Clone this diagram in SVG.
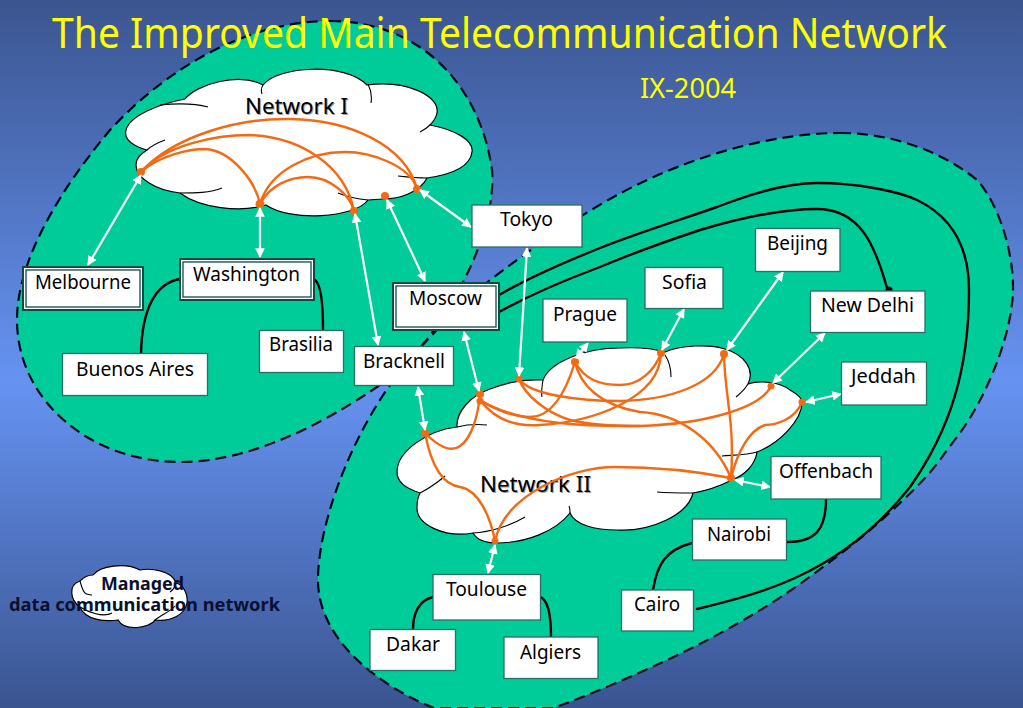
<svg xmlns="http://www.w3.org/2000/svg" width="1023" height="708" viewBox="0 0 1023 708">
<style>
text{font-family:"Noto Sans","DejaVu Sans",sans-serif}
.lbl{font-size:20px;fill:#000}
.region{fill:#00cc99;stroke:#050a1e;stroke-width:2.2;stroke-dasharray:11 6}
.cloud{fill:#fff;stroke:#000;stroke-width:1.2}
.tick{fill:none;stroke:#000;stroke-width:1.1}
.box{fill:#fff;stroke:#2a6f63;stroke-width:1.3}
.outer{fill:#fff;stroke:#0f4a44;stroke-width:2}
.inner{fill:#fff;stroke:#0f4a44;stroke-width:1.3}
.link{fill:none;stroke:#000;stroke-width:2.4;stroke-linecap:round}
.org{fill:none;stroke:#f26a14;stroke-width:2.4}
.dot{fill:#f26a14}
.arr{stroke:#fff;stroke-width:2.2;marker-start:url(#ah);marker-end:url(#ah)}
.head{font-size:21px;fill:#000}
.shadow{font-size:21px;fill:#555;opacity:.55}
</style>
<defs>
<linearGradient id="bg" x1="0" y1="0" x2="0" y2="1">
<stop offset="0" stop-color="#3b5590"/><stop offset=".54" stop-color="#6693f2"/><stop offset="1" stop-color="#3a5490"/>
</linearGradient>
<marker id="ah" viewBox="0 0 10 10" refX="9" refY="5" markerWidth="4.4" markerHeight="4.4" orient="auto-start-reverse">
<path d="M0 0L10 5L0 10Z" fill="#fff"/>
</marker>
</defs>
<rect width="1023" height="708" fill="url(#bg)"/>
<path id="region-1" class="region" d="M330 21C420 21 480 85 492 170C495 205 480 250 463 282C445 320 415 360 377 387C340 412 260 462 180 462C90 462 17 400 17 320C17 260 60 190 110 130C170 65 250 21 330 21Z"/>
<path id="region-2" class="region" d="M840 133C890 133 940 150 977 180C998 203 1013 250 1013 287C1013 335 985 400 957 437C945 452 935 468 923 480C895 510 860 540 819 570C770 607 720 635 667 660C630 677 590 695 553 708L434 708C400 695 318 650 318 580C318 530 345 450 388 388C415 350 450 315 490 280C530 250 565 225 603 203C680 158 770 133 840 133Z"/>
<text x="52" y="48" font-size="41" fill="#ffff00" textLength="895" lengthAdjust="spacingAndGlyphs">The Improved Main Telecommunication Network</text>
<text x="640" y="98" font-size="27" fill="#ffff00" textLength="96" lengthAdjust="spacingAndGlyphs">IX-2004</text>

<g id="cloud-network-1">
<path class="cloud" d="M185 99C197 84 240 72 263 85C278 66 345 62 367 85C405 80 440 95 437 113C436 118 433 122 430 125C455 130 474 140 472 152C470 168 448 175 427 178C420 192 400 199 383 199L368 200C355 218 290 222 266 205C240 213 200 208 180 193C155 190 136 178 136 165C136 158 141 154 147 150C130 145 124 138 126 130C130 115 160 104 185 99Z"/>
<path class="tick" d="M160 105C180 103 197 104 208 107M263 85C261 88 261 91 262 94M368 84C371 90 372 97 371 103M430 125C427 128 424 130 420 132M427 178C417 178 407 177 398 176M165 140C157 143 151 146 147 150M222 188C210 193 195 193 180 193M338 193C348 197 358 199 368 200"/>
<text x="246" y="115" class="shadow" textLength="103" lengthAdjust="spacingAndGlyphs">Network I</text>
<text x="245" y="114" class="head" textLength="103" lengthAdjust="spacingAndGlyphs">Network I</text>
</g>

<g id="cloud-network-2">
<path class="cloud" d="M457 427C456 412 470 396 490 389C505 383 525 379 543 380C550 362 585 348 620 348C640 347 655 349 665 352C680 345 710 344 725 349C745 355 755 370 748 384C760 380 780 382 790 390C797 394 802 398 802 402C802 420 780 443 757 452C755 465 745 475 732 480C720 486 705 491 693 493C688 515 650 532 617 530C595 530 575 525 570 513C555 532 525 543 497 543C485 543 477 540 473 533C445 538 416 525 417 507C417 502 418 497 420 493C405 488 397 482 397 472C397 450 430 430 457 427Z"/>
<path class="tick" d="M543 380C542 386 541 392 542 397M665 355C669 361 671 369 671 377M748 384C745 389 741 393 736 397M457 427C465 425 476 424 487 425M420 493C428 489 438 482 445 476M757 452C748 455 735 455 722 456M693 493C680 493 668 493 657 492M473 533C490 532 510 526 525 517M570 513C570 510 570 508 569 506"/>
<text x="481" y="493" class="shadow" textLength="111" lengthAdjust="spacingAndGlyphs">Network II</text>
<text x="480" y="492" class="head" textLength="111" lengthAdjust="spacingAndGlyphs">Network II</text>
</g>

<g id="connectors">
<path class="link" d="M499 295C530 277 570 260 600 248C640 232 680 220 717 207C750 194 785 183 817 183C860 183 900 192 917 200C950 216 969 245 969 290C969 370 950 430 910 487C880 525 845 555 797 577C765 592 730 601 697 609"/>
<path class="link" d="M499 312C530 295 565 280 600 267C640 250 670 240 700 230C740 218 780 209 817 209C860 209 875 245 887 288"/>
<circle cx="889" cy="290" r="3.5" fill="#000"/>
<path class="link" d="M180 279C155 283 142 310 141 353"/>
<path class="link" d="M315 280C322 285 323 310 323 330"/>
<path class="link" d="M826 499C826 530 815 542 787 542"/>
<path class="link" d="M692 543C665 550 657 565 653 590"/>
<path class="link" d="M433 597C420 600 413 612 413 629"/>
<path class="link" d="M540 597C549 600 551 620 551 637"/>

<path class="org" d="M141 172C175 135 240 118 290 119C350 120 405 145 417 189"/>
<path class="org" d="M141 172C165 145 215 135 250 135C300 137 345 165 354 211"/>
<path class="org" d="M141 172C160 155 190 149 205 149C230 150 255 180 260 204"/>
<path class="org" d="M260 204C270 170 310 152 345 152C370 152 410 165 417 189"/>
<path class="org" d="M260 204C270 185 290 177 308 177C330 177 350 195 354 211"/>

<path class="org" d="M425 433C440 448 452 452 460 446C472 438 478 415 480 395"/>
<path class="org" d="M425 433C432 470 445 485 460 487C478 490 490 515 495 541"/>
<path class="org" d="M495 541C505 495 570 467 615 467C660 467 700 472 731 478"/>
<path class="org" d="M480 400C495 410 515 417 530 417C550 417 565 395 575 362"/>
<path class="org" d="M480 400C495 420 515 427 540 425C590 422 660 400 661 353"/>
<path class="org" d="M480 400C520 425 590 427 640 426C700 424 760 410 771 386"/>
<path class="org" d="M519 379C530 395 580 401 620 401C670 400 715 385 724 354"/>
<path class="org" d="M519 379C525 395 545 412 570 420C590 425 615 426 640 426"/>
<path class="org" d="M575 362C585 380 600 385 620 385C640 385 655 370 661 353"/>
<path class="org" d="M575 362C580 385 600 405 640 412C680 414 715 440 731 478"/>
<path class="org" d="M724 354C725 400 735 420 731 478"/>
<path class="org" d="M802 402C795 420 775 425 765 425C750 430 738 450 731 478"/>

<g class="dot">
<circle cx="141" cy="172" r="4"/><circle cx="260" cy="204" r="4.5"/><circle cx="354" cy="211" r="4"/><circle cx="385" cy="196" r="4"/><circle cx="417" cy="189" r="4"/>
<circle cx="425" cy="433" r="4"/><circle cx="480" cy="394" r="4"/><circle cx="480" cy="401" r="3.5"/><circle cx="519" cy="379" r="3.5"/><circle cx="575" cy="362" r="4"/><circle cx="661" cy="353" r="4"/><circle cx="724" cy="354" r="4"/><circle cx="771" cy="386" r="3.5"/><circle cx="802" cy="402" r="3.5"/><circle cx="731" cy="478" r="4"/><circle cx="495" cy="541" r="3.5"/>
</g>

<line class="arr" x1="141" y1="175" x2="88" y2="265"/>
<line class="arr" x1="260" y1="208" x2="260" y2="257"/>
<line class="arr" x1="355" y1="214" x2="378" y2="345"/>
<line class="arr" x1="387" y1="200" x2="425" y2="281"/>
<line class="arr" x1="420" y1="190" x2="471" y2="227"/>
<line class="arr" x1="527" y1="248" x2="519" y2="376"/>
<line class="arr" x1="464" y1="332" x2="479" y2="391"/>
<line class="arr" x1="418" y1="387" x2="425" y2="430"/>
<line class="arr" x1="588" y1="343" x2="576" y2="358"/>
<line class="arr" x1="684" y1="309" x2="662" y2="350"/>
<line class="arr" x1="783" y1="272" x2="727" y2="350"/>
<line class="arr" x1="825" y1="333" x2="773" y2="383"/>
<line class="arr" x1="841" y1="394" x2="806" y2="402"/>
<line class="arr" x1="735" y1="480" x2="770" y2="487"/>
<line class="arr" x1="495" y1="545" x2="488" y2="573"/>
</g>

<g id="node-melbourne"><rect class="outer" x="23" y="267" width="120" height="43"/><rect class="inner" x="26" y="270" width="114" height="37"/><text class="lbl" x="35" y="289" textLength="96" lengthAdjust="spacingAndGlyphs">Melbourne</text></g>
<g id="node-washington"><rect class="outer" x="180" y="259" width="134" height="41"/><rect class="inner" x="183" y="262" width="128" height="35"/><text class="lbl" x="193" y="281" textLength="107" lengthAdjust="spacingAndGlyphs">Washington</text></g>
<g id="node-moscow"><rect class="outer" x="393" y="283" width="106" height="47"/><rect class="inner" x="396" y="286" width="100" height="41"/><text class="lbl" x="409" y="305" textLength="73" lengthAdjust="spacingAndGlyphs">Moscow</text></g>
<g id="node-buenos-aires"><rect class="box" x="62.5" y="353.5" width="145" height="42"/><text class="lbl" x="76" y="376" textLength="118" lengthAdjust="spacingAndGlyphs">Buenos Aires</text></g>
<g id="node-brasilia"><rect class="box" x="259.5" y="330.5" width="84" height="42"/><text class="lbl" x="269" y="351" textLength="64" lengthAdjust="spacingAndGlyphs">Brasilia</text></g>
<g id="node-bracknell"><rect class="box" x="354.5" y="346.5" width="99" height="39"/><text class="lbl" x="363" y="368" textLength="82" lengthAdjust="spacingAndGlyphs">Bracknell</text></g>
<g id="node-tokyo"><rect class="box" x="472" y="205" width="110" height="42"/><text class="lbl" x="500" y="226" textLength="53" lengthAdjust="spacingAndGlyphs">Tokyo</text></g>
<g id="node-prague"><rect class="box" x="543" y="299" width="84" height="43"/><text class="lbl" x="553" y="321" textLength="64" lengthAdjust="spacingAndGlyphs">Prague</text></g>
<g id="node-sofia"><rect class="box" x="645" y="267.5" width="78" height="41"/><text class="lbl" x="662" y="289" textLength="45" lengthAdjust="spacingAndGlyphs">Sofia</text></g>
<g id="node-beijing"><rect class="box" x="755.5" y="228.5" width="84.5" height="43"/><text class="lbl" x="767" y="250" textLength="61" lengthAdjust="spacingAndGlyphs">Beijing</text></g>
<g id="node-new-delhi"><rect class="box" x="810.5" y="291" width="114.5" height="41.5"/><text class="lbl" x="821" y="312" textLength="93" lengthAdjust="spacingAndGlyphs">New Delhi</text></g>
<g id="node-jeddah"><rect class="box" x="841.5" y="362" width="85" height="43"/><text class="lbl" x="851" y="383" textLength="65" lengthAdjust="spacingAndGlyphs">Jeddah</text></g>
<g id="node-offenbach"><rect class="box" x="771" y="456.5" width="110" height="42.5"/><text class="lbl" x="779" y="478" textLength="94" lengthAdjust="spacingAndGlyphs">Offenbach</text></g>
<g id="node-nairobi"><rect class="box" x="692.5" y="519" width="94" height="41"/><text class="lbl" x="707" y="541" textLength="64" lengthAdjust="spacingAndGlyphs">Nairobi</text></g>
<g id="node-cairo"><rect class="box" x="621.5" y="590" width="72" height="41"/><text class="lbl" x="634" y="611" textLength="46" lengthAdjust="spacingAndGlyphs">Cairo</text></g>
<g id="node-toulouse"><rect class="box" x="433" y="574.5" width="107.5" height="45.5"/><text class="lbl" x="446" y="596" textLength="81" lengthAdjust="spacingAndGlyphs">Toulouse</text></g>
<g id="node-dakar"><rect class="box" x="370" y="629.5" width="85.5" height="41"/><text class="lbl" x="386" y="651" textLength="54" lengthAdjust="spacingAndGlyphs">Dakar</text></g>
<g id="node-algiers"><rect class="box" x="504" y="637" width="94" height="41.5"/><text class="lbl" x="520" y="659" textLength="61" lengthAdjust="spacingAndGlyphs">Algiers</text></g>

<g id="legend">
<path class="cloud" d="M93 575C100 566 125 562 140 570C150 568 172 570 176 583C184 585 188 595 187 603C185 615 170 622 155 620C150 628 125 632 118 620C105 622 85 620 80 607C70 600 68 585 80 581C84 577 88 575 93 575Z"/>
<path class="tick" d="M80 607C88 612 103 618 112 613M155 620C162 614 170 612 175 606M80 581C84 596 86 594 92 595M176 583C175 587 173 590 170 592"/>
<text x="101" y="590" font-size="17" font-weight="700" fill="#0a1030" textLength="83" lengthAdjust="spacingAndGlyphs">Managed</text>
<text x="9" y="611" font-size="17" font-weight="700" fill="#0a1030" textLength="271" lengthAdjust="spacingAndGlyphs">data communication network</text>
</g>
</svg>
